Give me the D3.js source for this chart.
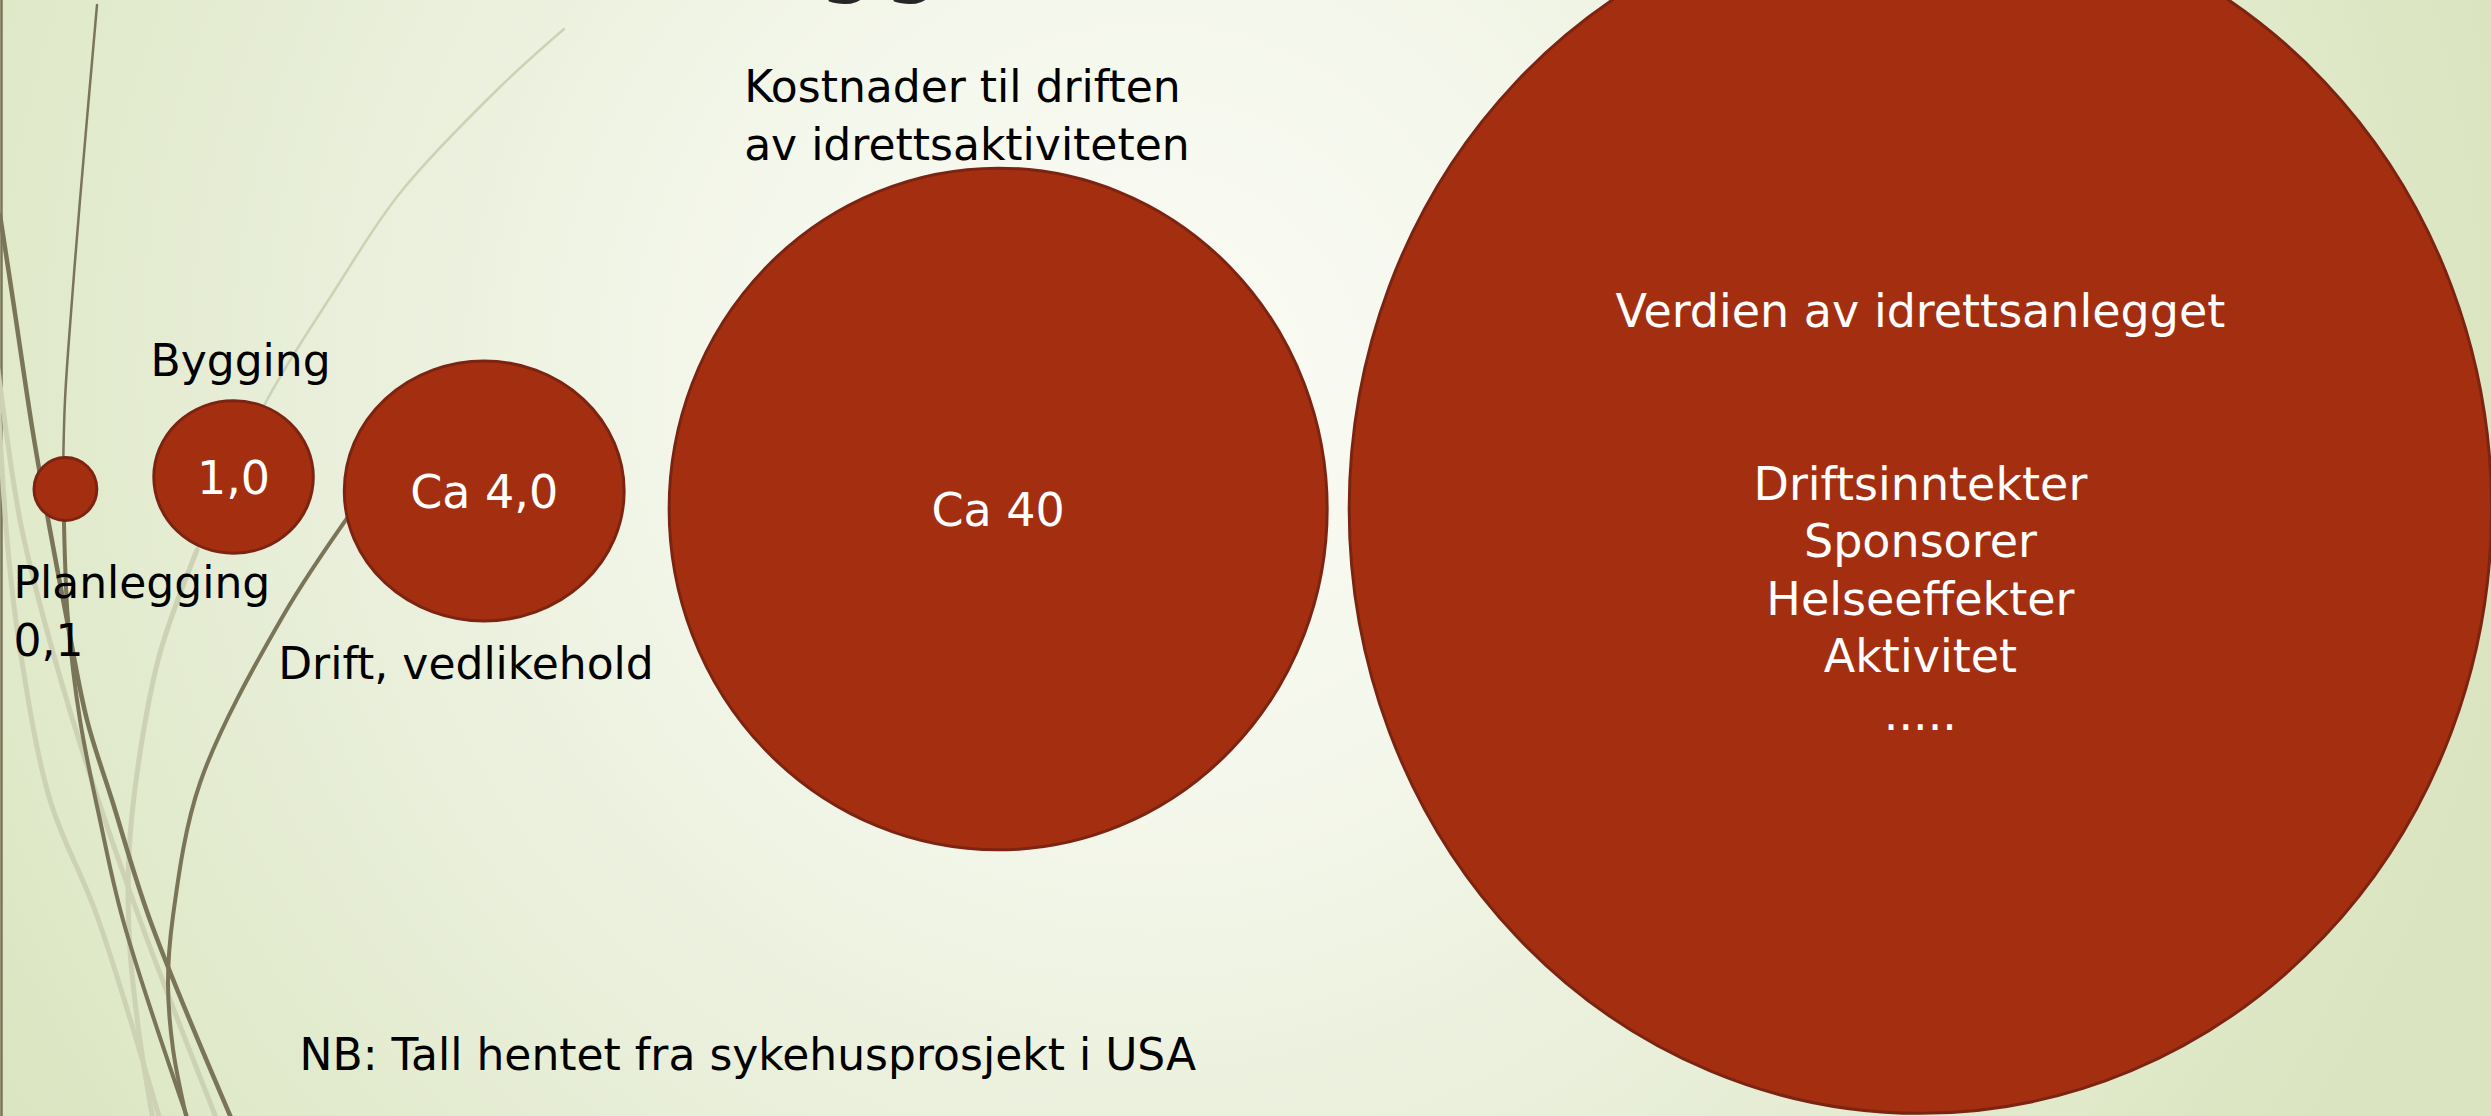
<!DOCTYPE html>
<html>
<head>
<meta charset="utf-8">
<script src="https://cdn.jsdelivr.net/npm/d3@7"></script>
<style>
  html, body { margin: 0; padding: 0; overflow: hidden; background: #eef3e2; }
  svg { display: block; font-family: 'DejaVu Sans', Verdana, sans-serif; }
</style>
</head>
<body>
<div id="chart"></div>
<script>
// --- data ---
const phaseNames = ['Planlegging', 'Bygging', 'Drift, vedlikehold', 'Kostnader til driften av idrettsaktiviteten', 'Verdien av idrettsanlegget'];
const relativeCost = [0.1, 1, 4, 40, 166];   // last one has no printed number
const valueLabels = ['0,1', '1,0', 'Ca 4,0', 'Ca 40', ''];
const valueItems = ['Driftsinntekter', 'Sponsorer', 'Helseeffekter', 'Aktivitet', '.....'];
const sourceNote = 'NB: Tall hentet fra sykehusprosjekt i USA';
const titleTail = 'gg';

// --- layout ---
const width = 2491;
const height = 1116;
const darkSize = 44;
const lightSize = 46;
const lineStep = 57.5;
const startX = 34;
const gapAfter = [57, 31, 45, 22];
const centreY = 509;
const liftY = [-20, -32, -18, 0, 0];
const aspect = [1, 0.957, 0.929, 1.036, 1.058];   // hand-drawn shapes are slightly oval

const colors = {
  bubble: '#a32f10',
  bubbleStroke: '#7c2411',
  text: '#000000',
  inner: '#ffffff',
  wispDark: '#7a7458',
  wispLight: '#cdd2b4',
  title: '#262626'
};

// decorative wisps of the slide theme (in slide pixels)
const wisps = [
  { c: colors.wispDark, w: 2.5, pts: [[1.5, 0], [1.5, 1116]] },
  { c: colors.wispLight, w: 5, pts: [[-2, 400], [8, 550], [20, 649], [50, 800], [97, 916], [160, 1120]] },
  { c: colors.wispLight, w: 5, pts: [[-2, 370], [20, 520], [43, 616], [83, 753], [140, 920], [217, 1120]] },
  { c: colors.wispLight, w: 2.5, pts: [[564, 29], [500, 87], [400, 193], [333, 293], [267, 400], [197, 550], [160, 653]] },
  { c: colors.wispLight, w: 5, pts: [[197, 550], [160, 653], [140, 753], [129, 853], [130, 950], [140, 1040], [153, 1120]] },
  { c: colors.wispDark, w: 4.5, pts: [[0, 215], [13, 300], [33, 433], [50, 530], [67, 620], [87, 720], [112, 800], [150, 920], [232, 1120]] },
  { c: colors.wispDark, w: 2.5, pts: [[97, 5], [80, 200], [72, 300], [65, 400], [63, 480]] },
  { c: colors.wispDark, w: 4, pts: [[63, 470], [65, 560], [68, 620], [80, 720], [100, 820], [123, 920], [188, 1120]] },
  { c: colors.wispDark, w: 4, pts: [[360, 500], [283, 616], [200, 783], [173, 916], [168, 983], [173, 1049], [187, 1120]] }
];

const radius = d3.scalePow().exponent(0.395).domain([0, 1]).range([0, 78]);

let cursor = startX;
const bubbles = relativeCost.map((v, i) => {
  const r = radius(v);
  const k = Math.sqrt(aspect[i]);
  const rx = r / k;
  const ry = r * k;
  const cx = cursor + rx;
  cursor = cx + rx + (gapAfter[i] || 0);
  return { name: phaseNames[i], value: v, label: valueLabels[i], rx, ry, cx, cy: centreY + liftY[i] };
});

const svg = d3.select('#chart')
  .append('svg')
  .attr('width', width)
  .attr('height', height);

// background
const defs = svg.append('defs');
const bg = defs.append('radialGradient')
  .attr('id', 'bg')
  .attr('gradientUnits', 'userSpaceOnUse')
  .attr('cx', 1150).attr('cy', 380).attr('r', 1380);
[[0, '#fbfcf6'], [0.3, '#f4f7eb'], [0.6, '#e9efda'], [0.85, '#e0e9c9'], [1, '#dae4c0']]
  .forEach(([o, c]) => bg.append('stop').attr('offset', o).attr('stop-color', c));

svg.append('rect')
  .attr('width', width)
  .attr('height', height)
  .attr('fill', 'url(#bg)');

// wisps
const wispLine = d3.line().curve(d3.curveCatmullRom.alpha(0.5));
svg.append('g')
  .selectAll('path')
  .data(wisps)
  .enter()
  .append('path')
  .attr('d', d => wispLine(d.pts))
  .attr('fill', 'none')
  .attr('stroke', d => d.c)
  .attr('stroke-width', d => d.w)
  .attr('stroke-linecap', 'round');

// cut-off slide title
svg.append('text')
  .attr('x', 882)
  .attr('y', -16)
  .attr('text-anchor', 'middle')
  .attr('font-size', 96)
  .attr('letter-spacing', 4)
  .attr('fill', colors.title)
  .text(titleTail);

// bubbles
svg.append('g')
  .selectAll('ellipse')
  .data(bubbles)
  .enter()
  .append('ellipse')
  .attr('cx', d => d.cx)
  .attr('cy', d => d.cy)
  .attr('rx', d => d.rx)
  .attr('ry', d => d.ry)
  .attr('fill', colors.bubble)
  .attr('stroke', colors.bubbleStroke)
  .attr('stroke-width', 3);

function addLines(x, y, lines, anchor, fill, size) {
  const t = svg.append('text')
    .attr('x', x)
    .attr('y', y)
    .attr('text-anchor', anchor)
    .attr('font-size', size)
    .attr('fill', fill);
  lines.forEach((s, i) => {
    t.append('tspan')
      .attr('x', x)
      .attr('dy', i === 0 ? 0 : lineStep)
      .text(s === '' ? '\u00a0' : s);
  });
}

const [b0, b1, b2, b3, b4] = bubbles;
const halfCap = lightSize * 0.729 / 2;

// value labels inside the bubbles
bubbles.slice(1, 4).forEach(b => addLines(b.cx, b.cy + halfCap, [b.label], 'middle', colors.inner, lightSize));

// names around the bubbles
addLines(b0.cx - 52, b0.cy + b0.ry + 78, [b0.name, b0.label], 'start', colors.text, darkSize);
addLines(b1.cx + 7, b1.cy - b1.ry - 25, [b1.name], 'middle', colors.text, darkSize);
addLines(b2.cx - 206, b2.cy + b2.ry + 58, [b2.name], 'start', colors.text, darkSize);

const kostWords = b3.name.split(' ');
addLines(b3.cx - 254, b3.cy - b3.ry - 66, [kostWords.slice(0, 3).join(' '), kostWords.slice(3).join(' ')], 'start', colors.text, darkSize);

addLines(b4.cx, b4.cy - 182, [b4.name, '', ''].concat(valueItems), 'middle', colors.inner, lightSize);

// source note
addLines(b1.cx + 66, height - 46, [sourceNote], 'start', colors.text, darkSize);
</script>
</body>
</html>
